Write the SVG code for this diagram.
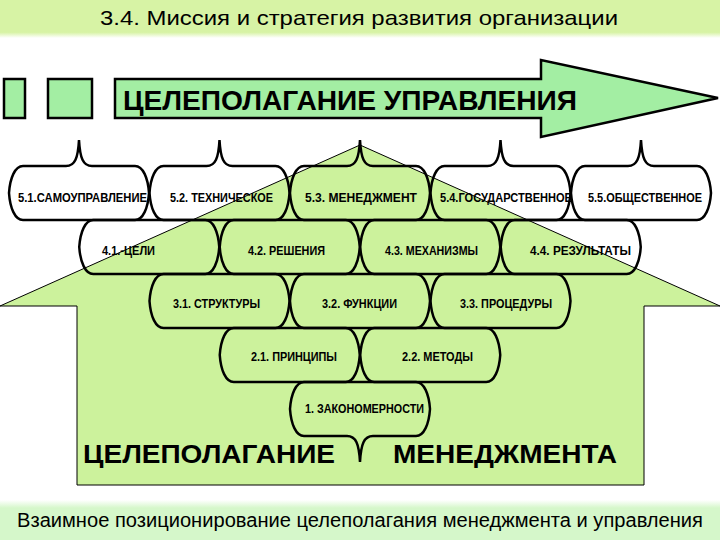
<svg xmlns="http://www.w3.org/2000/svg" xmlns:xlink="http://www.w3.org/1999/xlink" width="720" height="540" viewBox="0 0 720 540">
<style>
.t{font-family:"Liberation Sans",Arial,sans-serif;fill:#000}
.lbl{font-size:12px;font-weight:bold;text-anchor:middle}
.big{font-weight:bold;text-anchor:middle}
.cell{fill:none;stroke:#000;stroke-width:2.5;stroke-linejoin:miter}
.grn{fill:#a3eea3;stroke:#000;stroke-width:2.5}
</style>
<defs>
<linearGradient id="gTop" x1="0" y1="0" x2="0" y2="1">
<stop offset="0" stop-color="#d7f3a5"/><stop offset="0.85" stop-color="#d7f3a5"/><stop offset="1" stop-color="#d7f3a5" stop-opacity="0"/>
</linearGradient>
<linearGradient id="gBot" x1="0" y1="0" x2="0" y2="1">
<stop offset="0" stop-color="#d5f7ca" stop-opacity="0"/><stop offset="0.2" stop-color="#d5f7ca"/><stop offset="1" stop-color="#d5f7ca"/>
</linearGradient>
<path id="cell" class="cell" d="M-56,0 H56 C64,0 69,12 70,27 C69,42 64,54 56,54 H-56 C-64,54 -69,42 -70,27 C-69,12 -64,0 -56,0 Z"/>
<path id="cellTop" class="cell" d="M-56,0 H-13 C-4,0 -1,-8 0,-26 C1,-8 4,0 13,0 H56 C64,0 69,12 70,27 C69,42 64,54 56,54 H-56 C-64,54 -69,42 -70,27 C-69,12 -64,0 -56,0 Z"/>
<path id="cellBot" class="cell" d="M-56,0 H56 C64,0 69,12 70,27 C69,42 64,54 56,54 H13 C4,54 1,62 0,80 C-1,62 -4,54 -13,54 H-56 C-64,54 -69,42 -70,27 C-69,12 -64,0 -56,0 Z"/>
</defs>
<rect x="0" y="0" width="720" height="540" fill="#fff"/>
<g id="title">
<rect x="0" y="0" width="720" height="38" fill="url(#gTop)"/>
<text class="t" x="359" y="25" font-size="21" text-anchor="middle" textLength="518" lengthAdjust="spacingAndGlyphs">3.4. Миссия и стратегия развития организации</text>
</g>
<g id="house">
<polygon points="0,306 360,145 720,306 644,306 644,485 77,485 77,306" fill="#ccf29c" stroke="#000" stroke-width="1"/>
<text class="t big" x="209" y="463" font-size="26" textLength="252" lengthAdjust="spacingAndGlyphs">ЦЕЛЕПОЛАГАНИЕ</text>
<text class="t big" x="505" y="463" font-size="26" textLength="224" lengthAdjust="spacingAndGlyphs">МЕНЕДЖМЕНТА</text>
</g>
<g id="squares">
<rect class="grn" x="4" y="79" width="21" height="39"/>
<rect class="grn" x="48" y="79" width="44" height="39"/>
</g>
<g id="arrow">
<path class="grn" d="M115,79 H541 V60 L718,98 L541,137 V118 H115 Z"/>
<text class="t big" x="350" y="110" font-size="28" textLength="454" lengthAdjust="spacingAndGlyphs">ЦЕЛЕПОЛАГАНИЕ УПРАВЛЕНИЯ</text>
</g>
<g id="n51"><use xlink:href="#cellTop" x="79" y="166"/><text class="t lbl" x="82.5" y="202" textLength="129" lengthAdjust="spacingAndGlyphs">5.1.САМОУПРАВЛЕНИЕ</text></g>
<g id="n52"><use xlink:href="#cellTop" x="219.5" y="166"/><text class="t lbl" x="221.5" y="202" textLength="103" lengthAdjust="spacingAndGlyphs">5.2. ТЕХНИЧЕСКОЕ</text></g>
<g id="n53"><use xlink:href="#cellTop" x="360" y="166"/><text class="t lbl" x="361" y="202" textLength="112" lengthAdjust="spacingAndGlyphs">5.3. МЕНЕДЖМЕНТ</text></g>
<g id="n54"><use xlink:href="#cellTop" x="500.5" y="166"/><text class="t lbl" x="506" y="202" textLength="132" lengthAdjust="spacingAndGlyphs">5.4.ГОСУДАРСТВЕННОЕ</text></g>
<g id="n55"><use xlink:href="#cellTop" x="641" y="166"/><text class="t lbl" x="645" y="202" textLength="114" lengthAdjust="spacingAndGlyphs">5.5.ОБЩЕСТВЕННОЕ</text></g>
<g id="n41"><use xlink:href="#cell" x="149.25" y="220"/><text class="t lbl" x="128.5" y="255" textLength="53" lengthAdjust="spacingAndGlyphs">4.1.-ЦЕЛИ</text></g>
<g id="n42"><use xlink:href="#cell" x="289.75" y="220"/><text class="t lbl" x="286.5" y="255" textLength="77" lengthAdjust="spacingAndGlyphs">4.2. РЕШЕНИЯ</text></g>
<g id="n43"><use xlink:href="#cell" x="430.25" y="220"/><text class="t lbl" x="431.5" y="255" textLength="93" lengthAdjust="spacingAndGlyphs">4.3. МЕХАНИЗМЫ</text></g>
<g id="n44"><use xlink:href="#cell" x="570.75" y="220"/><text class="t lbl" x="580.5" y="255" textLength="101" lengthAdjust="spacingAndGlyphs">4.4.  РЕЗУЛЬТАТЫ</text></g>
<g id="n31"><use xlink:href="#cell" x="219.5" y="274"/><text class="t lbl" x="216.5" y="308" textLength="87" lengthAdjust="spacingAndGlyphs">3.1. СТРУКТУРЫ</text></g>
<g id="n32"><use xlink:href="#cell" x="360" y="274"/><text class="t lbl" x="359.5" y="308" textLength="75" lengthAdjust="spacingAndGlyphs">3.2. ФУНКЦИИ</text></g>
<g id="n33"><use xlink:href="#cell" x="500.5" y="274"/><text class="t lbl" x="506" y="308" textLength="92" lengthAdjust="spacingAndGlyphs">3.3. ПРОЦЕДУРЫ</text></g>
<g id="n21"><use xlink:href="#cell" x="289.75" y="328"/><text class="t lbl" x="294" y="361" textLength="86" lengthAdjust="spacingAndGlyphs">2.1. ПРИНЦИПЫ</text></g>
<g id="n22"><use xlink:href="#cell" x="430.25" y="328"/><text class="t lbl" x="437.5" y="361" textLength="71" lengthAdjust="spacingAndGlyphs">2.2. МЕТОДЫ</text></g>
<g id="n1"><use xlink:href="#cellBot" x="360" y="382"/><text class="t lbl" x="364.5" y="413" textLength="119" lengthAdjust="spacingAndGlyphs">1. ЗАКОНОМЕРНОСТИ</text></g>
<g id="connectors"></g>
<g id="caption">
<rect x="0" y="500" width="720" height="40" fill="url(#gBot)"/>
<text class="t" x="360" y="527" font-size="20" text-anchor="middle" textLength="686" lengthAdjust="spacingAndGlyphs">Взаимное позиционирование целеполагания менеджмента и управления</text>
</g>
</svg>
